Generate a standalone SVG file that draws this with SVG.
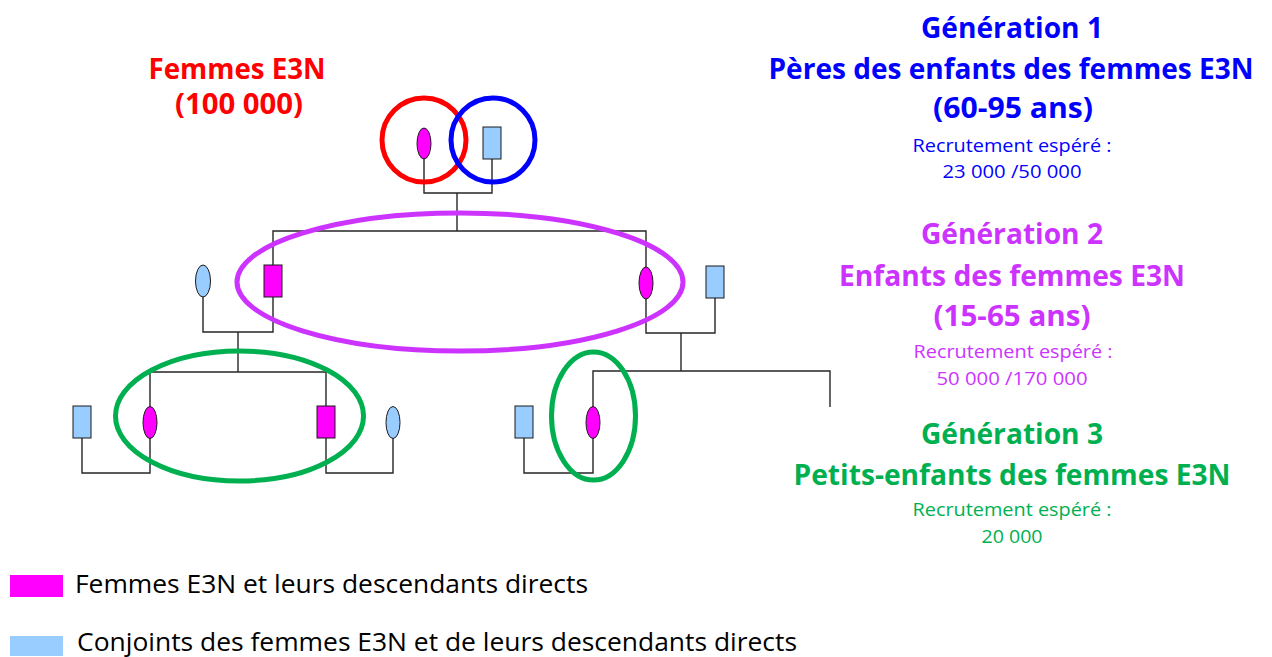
<svg xmlns="http://www.w3.org/2000/svg" width="1272" height="657" viewBox="0 0 1272 657">
<style>
.ln{fill:none;stroke:#262626;stroke-width:1.4}
.f{fill:#FF00FF;stroke:#1a1a1a;stroke-width:1}
.c{fill:#99CCFF;stroke:#1a1a1a;stroke-width:1}
.ring{fill:none;stroke-width:5}
text{font-family:"Open Sans","Liberation Sans",sans-serif;text-anchor:middle}
.h{font-weight:bold;font-size:28px}
.s{font-size:18px}
.lg{font-size:25px;text-anchor:start;fill:#000}
</style>
<rect width="1272" height="657" fill="#fff"/>
<g id="connectors">
<polyline class="ln" points="424,159 424,193 492,193 492,159"/>
<line class="ln" x1="457" y1="193" x2="457" y2="231"/>
<polyline class="ln" points="273,265 273,231 646,231 646,267"/>
<polyline class="ln" points="273,297 273,332 203,332 203,297"/>
<line class="ln" x1="238" y1="332" x2="238" y2="372"/>
<polyline class="ln" points="646,299 646,333 715,333 715,298"/>
<line class="ln" x1="681" y1="333" x2="681" y2="371"/>
<polyline class="ln" points="593,407 593,371 830,371 830,407"/>
<polyline class="ln" points="593,438 593,473 524,473 524,438"/>
<polyline class="ln" points="150,407 150,372 326,372 326,406"/>
<polyline class="ln" points="150,438 150,473 82,473 82,438"/>
<polyline class="ln" points="326,438 326,473 393,473 393,438"/>
</g>
<g id="gen1-mother"><ellipse class="f" cx="424" cy="143.5" rx="7" ry="15.5"/></g>
<g id="gen1-father"><rect class="c" x="483" y="127" width="18" height="32"/></g>
<g id="gen2-son"><rect class="f" x="264" y="265" width="18" height="32"/></g>
<g id="gen2-son-spouse"><ellipse class="c" cx="203" cy="281" rx="7.5" ry="16"/></g>
<g id="gen2-daughter"><ellipse class="f" cx="646" cy="283" rx="7" ry="16"/></g>
<g id="gen2-daughter-spouse"><rect class="c" x="706" y="266" width="18" height="32"/></g>
<g id="gen3-a"><ellipse class="f" cx="150" cy="422.5" rx="7" ry="16"/></g>
<g id="gen3-a-spouse"><rect class="c" x="73" y="406" width="18" height="32"/></g>
<g id="gen3-b"><rect class="f" x="317" y="406" width="18" height="32"/></g>
<g id="gen3-b-spouse"><ellipse class="c" cx="393" cy="422.5" rx="7" ry="16"/></g>
<g id="gen3-c"><ellipse class="f" cx="593" cy="422.5" rx="7" ry="16"/></g>
<g id="gen3-c-spouse"><rect class="c" x="515" y="406" width="18" height="32"/></g>
<g id="rings">
<circle class="ring" cx="424" cy="140" r="42" stroke="#FF0000"/>
<circle class="ring" cx="493" cy="140" r="42" stroke="#0000FF"/>
<ellipse class="ring" cx="460" cy="282" rx="223" ry="69" stroke="#CC33FF"/>
<ellipse class="ring" cx="239.5" cy="416" rx="124" ry="65" stroke="#00B050"/>
<ellipse class="ring" cx="593.5" cy="416" rx="42" ry="64" stroke="#00B050"/>
</g>
<g id="label-femmes" fill="#FF0000">
<text class="h" x="237" y="79" textLength="177" lengthAdjust="spacingAndGlyphs">Femmes E3N</text>
<text class="h" x="239" y="114" textLength="128" lengthAdjust="spacingAndGlyphs">(100 000)</text>
</g>
<g id="label-gen1" fill="#0000FF">
<text class="h" x="1012" y="38" textLength="182" lengthAdjust="spacingAndGlyphs">Génération 1</text>
<text class="h" x="1011" y="79" textLength="485" lengthAdjust="spacingAndGlyphs">Pères des enfants des femmes E3N</text>
<text class="h" x="1013" y="118" textLength="160" lengthAdjust="spacingAndGlyphs">(60-95 ans)</text>
<text class="s" x="1012" y="152" textLength="199" lengthAdjust="spacingAndGlyphs">Recrutement espéré :</text>
<text class="s" x="1012" y="178" textLength="139" lengthAdjust="spacingAndGlyphs">23 000 /50 000</text>
</g>
<g id="label-gen2" fill="#CC33FF">
<text class="h" x="1012" y="244" textLength="182" lengthAdjust="spacingAndGlyphs">Génération 2</text>
<text class="h" x="1012" y="286" textLength="346" lengthAdjust="spacingAndGlyphs">Enfants des femmes E3N</text>
<text class="h" x="1012" y="326" textLength="157" lengthAdjust="spacingAndGlyphs">(15-65 ans)</text>
<text class="s" x="1013" y="358" textLength="199" lengthAdjust="spacingAndGlyphs">Recrutement espéré :</text>
<text class="s" x="1012" y="385" textLength="151" lengthAdjust="spacingAndGlyphs">50 000 /170 000</text>
</g>
<g id="label-gen3" fill="#00B050">
<text class="h" x="1012" y="444" textLength="182" lengthAdjust="spacingAndGlyphs">Génération 3</text>
<text class="h" x="1012" y="485" textLength="437" lengthAdjust="spacingAndGlyphs">Petits-enfants des femmes E3N</text>
<text class="s" x="1012" y="516" textLength="199" lengthAdjust="spacingAndGlyphs">Recrutement espéré :</text>
<text class="s" x="1012" y="543" textLength="61" lengthAdjust="spacingAndGlyphs">20 000</text>
</g>
<g id="legend">
<rect x="10" y="575" width="53" height="22" fill="#FF00FF"/>
<text class="lg" x="75" y="593" textLength="513" lengthAdjust="spacingAndGlyphs">Femmes E3N et leurs descendants directs</text>
<rect x="10" y="636" width="53" height="20" fill="#99CCFF"/>
<text class="lg" x="77" y="651" font-size="24" textLength="720" lengthAdjust="spacingAndGlyphs">Conjoints des femmes E3N et de leurs descendants directs</text>
</g>
</svg>
